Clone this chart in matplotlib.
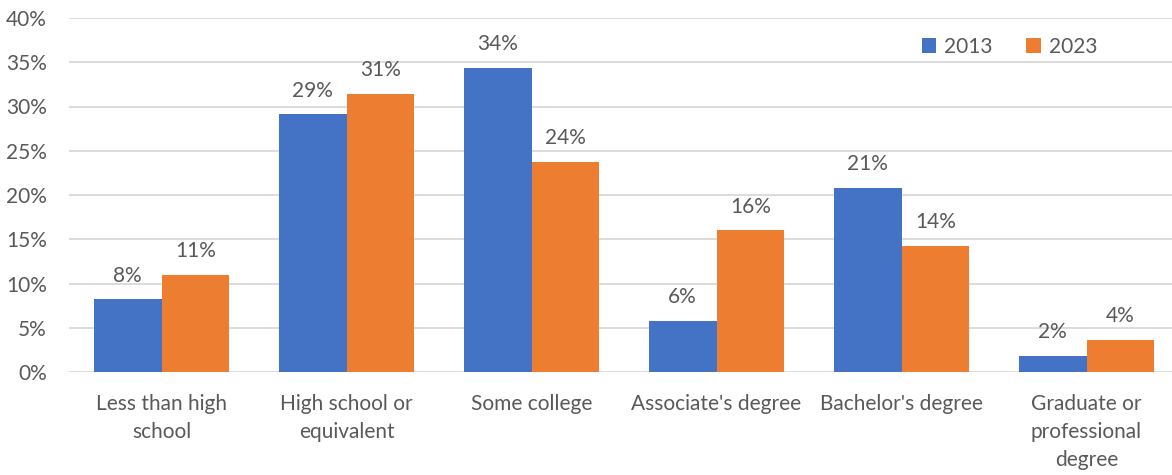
import matplotlib.pyplot as plt
import numpy as np

categories = ["Less than high\nschool", "High school or\nequivalent", "Some college",
              "Associate's degree", "Bachelor's degree", "Graduate or\nprofessional\ndegree"]
years = ["2013", "2023"]
share_2013 = [8.2, 29.1, 34.4, 5.8, 20.8, 1.8]
share_2023 = [11.0, 31.4, 23.7, 16.0, 14.2, 3.6]
yticks = [0, 5, 10, 15, 20, 25, 30, 35, 40]

colors = ["#4472C4", "#ED7D31"]
text_color = "#595959"
grid_color = "#D9D9D9"
fs = 15

plt.rcParams['font.family'] = ['Lato', 'DejaVu Sans']

W, H = 1172, 475
fig = plt.figure(figsize=(W / 100, H / 100), dpi=100)
# plot area runs a little past the right edge of the canvas
ax = fig.add_axes([69 / W, 1 - 372 / H, (1179 - 69) / W, (372 - 18) / H])

x = np.arange(len(categories))
width = 0.365
series = [share_2013, share_2023]
for i, (vals, label) in enumerate(zip(series, years)):
    offs = (i - 0.5) * width
    bars = ax.bar(x + offs, vals, width, color=colors[i], label=label, zorder=3)
    for b, v in zip(bars, vals):
        ax.annotate(f"{v:.0f}%", (b.get_x() + b.get_width() / 2, v),
                    xytext=(0, 10), textcoords="offset points",
                    ha="center", va="bottom", fontsize=fs, color=text_color)

ax.set_xlim(-0.5, len(categories) - 0.5)
ax.set_ylim(0, 40)
ax.set_yticks(yticks)
ax.set_yticklabels([f"{t}%" for t in yticks])
ax.yaxis.grid(True, color=grid_color, linewidth=1.3, zorder=0)
ax.set_axisbelow(True)
for s in ax.spines.values():
    s.set_visible(False)
ax.tick_params(axis='both', length=0, labelsize=fs, labelcolor=text_color)
ax.tick_params(axis='y', pad=16)
ax.tick_params(axis='x', pad=16)
ax.set_xticks(x)
ax.set_xticklabels(categories, va="top", linespacing=1.5)

ax.legend(loc="upper left", bbox_to_anchor=(907 / W, 1 - 22 / H), bbox_transform=fig.transFigure,
          ncol=2, frameon=False, borderpad=0.2,
          fontsize=fs, handlelength=0.7, handleheight=0.7, handletextpad=0.4,
          columnspacing=1.6, labelcolor=text_color)

fig.savefig("out.png", dpi=100)
